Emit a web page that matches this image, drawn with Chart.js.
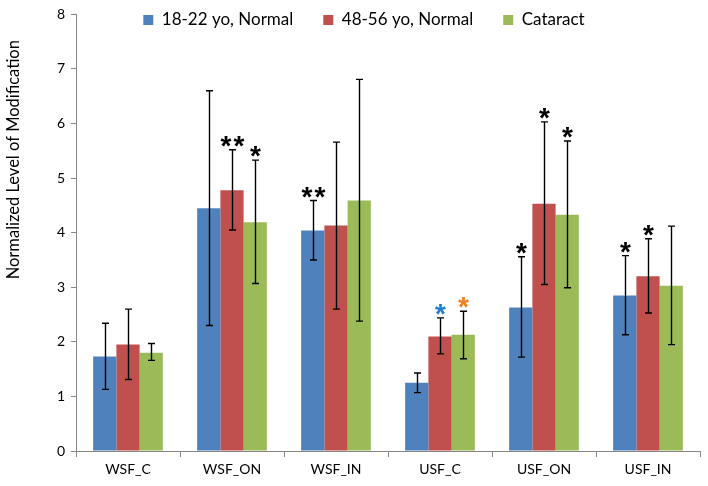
<!DOCTYPE html>
<html>
<head>
<meta charset="utf-8">
<script src="https://cdn.jsdelivr.net/npm/chart.js@4.4.1/dist/chart.umd.min.js"></script>
<style>
  body { margin: 0; background: #fff; }
  #wrap { width: 708px; height: 486px; }
</style>
</head>
<body>
<div id="wrap"><canvas id="chart"></canvas></div>
<script>
var categories = ['WSF_C', 'WSF_ON', 'WSF_IN', 'USF_C', 'USF_ON', 'USF_IN'];
var seriesNames = ['18-22 yo, Normal', '48-56 yo, Normal', 'Cataract'];

var youngVals = [1.73, 4.45, 4.04, 1.25, 2.63, 2.85];
var youngHi   = [2.34, 6.60, 4.59, 1.43, 3.56, 3.58];
var youngLo   = [1.13, 2.30, 3.50, 1.07, 1.72, 2.13];

var olderVals = [1.95, 4.78, 4.13, 2.10, 4.53, 3.20];
var olderHi   = [2.60, 5.52, 5.66, 2.44, 6.03, 3.89];
var olderLo   = [1.31, 4.05, 2.60, 1.78, 3.05, 2.53];

var cataractVals = [1.80, 4.19, 4.59, 2.13, 4.33, 3.03];
var cataractHi   = [1.97, 5.33, 6.81, 2.56, 5.68, 4.12];
var cataractLo   = [1.66, 3.07, 2.38, 1.69, 2.99, 1.95];

// significance marks per series
var youngStars    = ['', '', '**', '', '*', '*'];
var olderStars    = ['', '**', '', '*', '*', '*'];
var cataractStars = ['', '*', '', '*', '*', ''];
var youngStarColors    = ['#000', '#000', '#000', '#000', '#000', '#000'];
var olderStarColors    = ['#000', '#000', '#000', '#1f7fd6', '#000', '#000'];
var cataractStarColors = ['#000', '#000', '#000', '#f07f1c', '#000', '#000'];

var yTicks = [0, 1, 2, 3, 4, 5, 6, 7, 8];

var hiArr = [youngHi, olderHi, cataractHi];
var loArr = [youngLo, olderLo, cataractLo];
var starArr = [youngStars, olderStars, cataractStars];
var starColArr = [youngStarColors, olderStarColors, cataractStarColors];

var font = 'Lato';
var axisGrey = '#868686';

var errorBars = {
  id: 'errorBars',
  afterDatasetsDraw: function(chart) {
    var ctx = chart.ctx;
    var y = chart.scales.y;
    ctx.save();
    for (var i = 0; i < chart.data.datasets.length; i++) {
      var meta = chart.getDatasetMeta(i);
      meta.data.forEach(function(bar, j) {
        var x = Math.round(bar.x) + 0.5;
        var top = y.getPixelForValue(hiArr[i][j]);
        var bot = y.getPixelForValue(loArr[i][j]);
        ctx.strokeStyle = '#000';
        ctx.lineWidth = 1.4;
        ctx.beginPath();
        ctx.moveTo(x, top); ctx.lineTo(x, bot);
        ctx.moveTo(x - 3.5, top); ctx.lineTo(x + 3.5, top);
        ctx.moveTo(x - 3.5, bot); ctx.lineTo(x + 3.5, bot);
        ctx.stroke();
        var s = starArr[i][j];
        if (s) {
          ctx.fillStyle = starColArr[i][j];
          ctx.font = 'bold 28px "Liberation Sans"';
          ctx.textAlign = 'center';
          ctx.textBaseline = 'alphabetic';
          var n = s.length;
          for (var k = 0; k < n; k++) {
            var dx = (k - (n - 1) / 2) * 13;
            ctx.fillText('*', x + dx, top + 5);
          }
        }
      });
    }
    ctx.restore();
  }
};

// let the legend float over the top of the plot instead of taking room
var legendOverlap = {
  id: 'legendOverlap',
  afterInit: function(chart) {
    var lg = chart.legend;
    if (!lg) return;
    var origFit = lg.fit;
    var origDraw = lg.draw;
    lg.fit = function() {
      origFit.call(this);
      this._realH = this.height;
      this.height = 0;
    };
    lg.draw = function() {
      var t = this.top, l = this.left, r = this.right, b = this.bottom;
      this.top = t - 33;
      this.bottom = this.top + this._realH;
      this.left = l + 14;
      this.right = r + 14;
      origDraw.call(this);
      this.top = t; this.bottom = b; this.left = l; this.right = r;
    };
  }
};

// axis title sits higher than the middle of the axis in the original
var titleShift = {
  id: 'titleShift',
  afterLayout: function(chart) {
    var sc = chart.scales.y;
    if (!sc || sc._shifted) return;
    sc._shifted = true;
    var orig = sc.drawTitle;
    sc.drawTitle = function() {
      var ctx = this.ctx;
      ctx.save();
      ctx.translate(0, -73);
      orig.apply(this, arguments);
      ctx.restore();
    };
  }
};

new Chart(document.getElementById('chart'), {
  type: 'bar',
  data: {
    labels: categories,
    datasets: [
      { label: seriesNames[0], data: youngVals, backgroundColor: '#4f81bd' },
      { label: seriesNames[1], data: olderVals, backgroundColor: '#c0504d' },
      { label: seriesNames[2], data: cataractVals, backgroundColor: '#9bbb59' }
    ]
  },
  options: {
    responsive: true,
    maintainAspectRatio: false,
    animation: false,
    layout: { padding: { top: 11, right: 8, left: 0, bottom: 0 } },
    datasets: { bar: { categoryPercentage: 0.67, barPercentage: 1.0 } },
    scales: {
      x: {
        grid: { display: true, offset: true, drawOnChartArea: false, tickLength: 6, color: axisGrey },
        border: { color: axisGrey },
        ticks: { color: '#000', font: { family: font, size: 14 }, padding: 4 },
        afterFit: function(s) { s.height = 35; }
      },
      y: {
        min: 0, max: 8,
        afterBuildTicks: function(s) { s.ticks = yTicks.map(function(v) { return { value: v }; }); },
        grid: { display: true, drawOnChartArea: false, tickLength: 5, color: axisGrey },
        border: { color: axisGrey },
        ticks: { color: '#000', font: { family: font, size: 14 }, padding: 6 },
        title: { display: true, text: 'Normalized Level of Modification', color: '#000', font: { family: font, size: 16.5 }, padding: 4 },
        afterFit: function(s) { s.width = 76; }
      }
    },
    plugins: {
      legend: {
        position: 'top',
        labels: { color: '#000', font: { family: font, size: 17 }, boxWidth: 10, boxHeight: 10, padding: 30 }
      },
      tooltip: { enabled: false }
    }
  },
  plugins: [legendOverlap, titleShift, errorBars]
});
</script>
</body>
</html>
